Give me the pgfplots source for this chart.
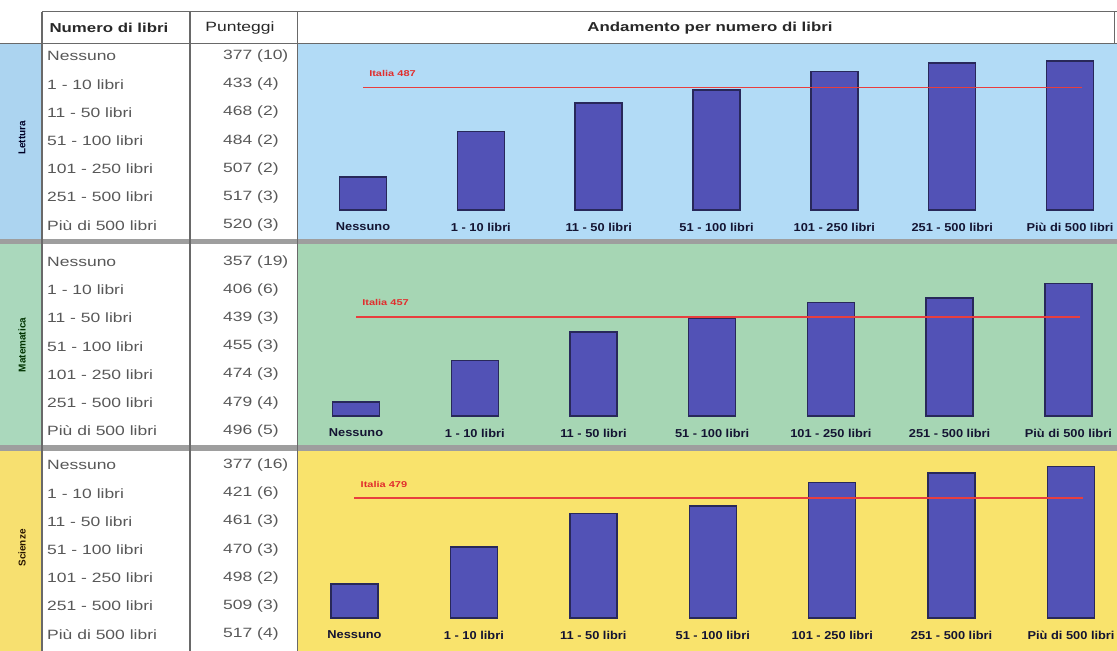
\documentclass[border=0pt]{standalone}
\usepackage{pgfplots}
\pgfplotsset{compat=1.18}
\usepackage{fontspec}
\setmainfont{Liberation Sans}
\newfontfamily\tabfont[FakeStretch=1.3]{Liberation Sans}
\newfontfamily\barfont[FakeStretch=1.12]{Liberation Sans}
\newfontfamily\reffont[FakeStretch=1.3]{Liberation Sans}

% panel and strip colours
\definecolor{letBg}{RGB}{178,219,246}
\definecolor{letStrip}{RGB}{172,212,240}
\definecolor{matBg}{RGB}{166,214,180}
\definecolor{matStrip}{RGB}{170,216,188}
\definecolor{sciBg}{RGB}{249,227,108}
\definecolor{sciStrip}{RGB}{247,224,112}
% bars, reference line, text
\definecolor{barFill}{RGB}{82,82,182}
\definecolor{barEdge}{RGB}{40,40,90}
\definecolor{refRed}{RGB}{232,62,62}
\definecolor{refText}{RGB}{225,45,45}
\definecolor{tabText}{RGB}{88,88,88}
\definecolor{headText}{RGB}{40,40,40}
\definecolor{tickInk}{RGB}{20,20,50}
\definecolor{sepGray}{RGB}{158,158,158}
\definecolor{ruleGray}{RGB}{105,105,105}

\pgfplotsset{
  booksbar/.style={
    width=819bp, scale only axis, anchor=south west,
    axis line style={draw=none},
    ytick=\empty,
    xtick={0,...,6},
    xticklabels={Nessuno,1 - 10 libri,11 - 50 libri,51 - 100 libri,101 - 250 libri,251 - 500 libri,Più di 500 libri},
    major tick length=0pt,
    xticklabel style={font=\barfont\bfseries\fontsize{11.5}{13}\selectfont, text=tickInk, anchor=center, yshift=-17bp},
    clip mode=individual,
  },
}
\tikzset{
  scorebars/.style={ybar, bar width=47bp, fill=barFill, draw=barEdge, line width=1.5bp},
  refline/.style={refRed, line width=1.8bp},
  reflabel/.style={anchor=west, xshift=2bp, yshift=14bp, text=refText,
    font=\reffont\bfseries\fontsize{8.5}{10}\selectfont},
}

\newcommand{\tabtext}{\tabfont\fontsize{13.5}{16}\selectfont}
\newcommand{\subjtext}{\bfseries\fontsize{10}{11}\selectfont}

\begin{document}
\begin{tikzpicture}
\useasboundingbox (0,0) rectangle (1117bp,-651bp);

\begin{scope}[x=1bp,y=-1bp]
  \fill[white] (0,0) rectangle (1117,651);
  % subject strips
  \fill[letStrip] (0,44) rectangle (42,238.5);
  \fill[matStrip] (0,244) rectangle (42,445);
  \fill[sciStrip] (0,450.5) rectangle (42,651);
  % chart panels
  \fill[letBg] (298,44) rectangle (1117,238.5);
  \fill[matBg] (298,244) rectangle (1117,445);
  \fill[sciBg] (298,450.5) rectangle (1117,651);
  % separators between subjects
  \fill[sepGray] (0,238.5) rectangle (1117,244);
  \fill[sepGray] (0,445) rectangle (1117,450.5);
  % grid rules
  \draw[ruleGray, line width=1.2] (42,11.5) -- (1117,11.5);
  \draw[ruleGray, line width=1.8] (0,43.5) -- (1117,43.5);
  \draw[ruleGray, line width=1.5] (42,11.5) -- (42,651);
  \draw[ruleGray, line width=1.2] (190,11.5) -- (190,651);
  \draw[ruleGray, line width=1.2] (297.5,11.5) -- (297.5,651);
  \draw[ruleGray, line width=1] (1114,11.5) -- (1114,43.5);

  % header
  \node[anchor=west, text=headText, font=\tabfont\bfseries\fontsize{13}{15}\selectfont] at (46,28) {Numero di libri};
  \node[text=headText, font=\tabfont\fontsize{13.5}{15}\selectfont] at (240,28) {Punteggi};
  \node[text=headText, font=\tabfont\bfseries\fontsize{13}{15}\selectfont] at (710,28) {Andamento per numero di libri};

  % subject names
  \node[rotate=90, text=black!85!blue, font=\subjtext] at (22,138) {Lettura};
  \node[rotate=90, text=black!80!green, font=\subjtext] at (22,345) {Matematica};
  \node[rotate=90, text=black!85!orange, font=\subjtext] at (22,548) {Scienze};

  % table rows: y / class / score (s.e.)
  \foreach \y/\lab/\val in {
      56/Nessuno/377 (10), 84.2/1 - 10 libri/433 (4), 112.4/11 - 50 libri/468 (2),
      140.6/51 - 100 libri/484 (2), 168.8/101 - 250 libri/507 (2),
      197/251 - 500 libri/517 (3), 225.2/Più di 500 libri/520 (3),
      261.7/Nessuno/357 (19), 289.9/1 - 10 libri/406 (6), 318.1/11 - 50 libri/439 (3),
      346.3/51 - 100 libri/455 (3), 374.5/101 - 250 libri/474 (3),
      402.7/251 - 500 libri/479 (4), 430.9/Più di 500 libri/496 (5),
      465/Nessuno/377 (16), 493.2/1 - 10 libri/421 (6), 521.4/11 - 50 libri/461 (3),
      549.6/51 - 100 libri/470 (3), 577.8/101 - 250 libri/498 (2),
      606/251 - 500 libri/509 (3), 634.2/Più di 500 libri/517 (4)} {
    \node[anchor=west, text=tabText, font=\tabtext, inner sep=0pt] at (47,\y) {\lab};
    \node[anchor=west, text=tabText, font=\tabtext, inner sep=0pt] at (223,\y) {\val};
  }
\end{scope}

% Lettura
\begin{axis}[booksbar, at={(298bp,-210bp)}, height=166bp,
  xmin=-0.552, xmax=6.399, ymin=336, ymax=540.7]
  \addplot[scorebars] coordinates {(0,377) (1,433) (2,468) (3,484) (4,507) (5,517) (6,520)};
  \addplot[refline] coordinates {(0,487) (6.1,487)}
    node[pos=0, reflabel] {Italia 487};
\end{axis}

% Matematica
\begin{axis}[booksbar, at={(298bp,-416bp)}, height=172bp,
  xmin=-0.489, xmax=6.41, ymin=340.5, ymax=542.6]
  \addplot[scorebars] coordinates {(0,357) (1,406) (2,439) (3,455) (4,474) (5,479) (6,496)};
  \addplot[refline] coordinates {(0,457) (6.1,457)}
    node[pos=0, reflabel] {Italia 457};
\end{axis}

% Scienze
\begin{axis}[booksbar, at={(298bp,-618bp)}, height=167.5bp,
  xmin=-0.473, xmax=6.385, ymin=336.5, ymax=535.9]
  \addplot[scorebars] coordinates {(0,377) (1,421) (2,461) (3,470) (4,498) (5,509) (6,517)};
  \addplot[refline] coordinates {(0,479) (6.1,479)}
    node[pos=0, reflabel] {Italia 479};
\end{axis}
\end{tikzpicture}
\end{document}
